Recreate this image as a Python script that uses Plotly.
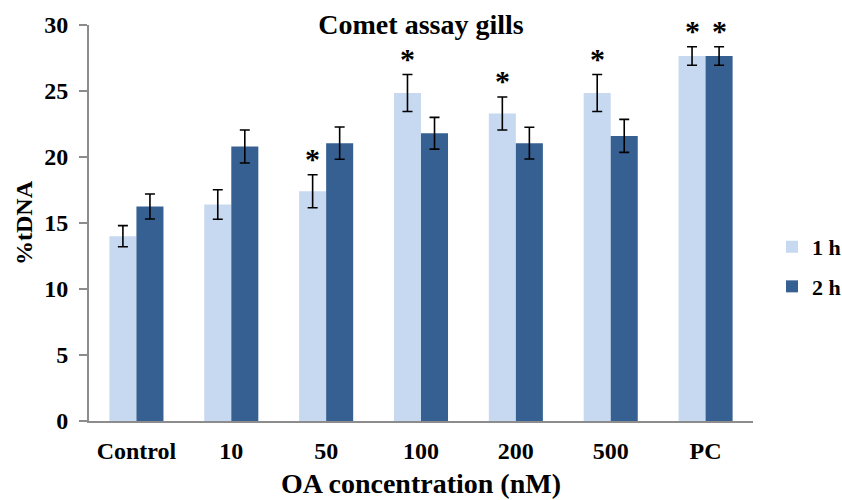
import plotly.graph_objects as go

categories = ["Control", "10", "50", "100", "200", "500", "PC"]
series_names = ["1 h", "2 h"]
values_1h = [14.0, 16.4, 17.4, 24.85, 23.3, 24.85, 27.65]
errors_1h = [0.8, 1.12, 1.25, 1.4, 1.25, 1.4, 0.7]
values_2h = [16.25, 20.8, 21.05, 21.8, 21.05, 21.6, 27.65]
errors_2h = [0.95, 1.25, 1.22, 1.2, 1.2, 1.25, 0.7]
stars_1h = [False, False, True, True, True, True, True]
stars_2h = [False, False, False, False, False, False, True]
y_ticks = [0, 5, 10, 15, 20, 25, 30]

FONT = "Liberation Serif"
LIGHT = "#C6D9F1"
DARK = "#366092"

def bfont(size):
    return dict(family=FONT, size=size, color="black", weight="bold")

fig = go.Figure()
for name, vals, errs, col, grp in [
    (series_names[0], values_1h, errors_1h, LIGHT, "g1"),
    (series_names[1], values_2h, errors_2h, DARK, "g2"),
]:
    fig.add_trace(go.Bar(
        x=categories, y=vals, name=name, legendgroup=grp,
        marker=dict(color=col, line=dict(width=0)),
        error_y=dict(type="data", array=errs, visible=True,
                     color="black", thickness=1.6, width=5),
    ))

annotations = []
for i, cat in enumerate(categories):
    for flag, vals, errs, off in [(stars_1h, values_1h, errors_1h, -0.142),
                                  (stars_2h, values_2h, errors_2h, 0.142)]:
        if flag[i]:
            annotations.append(dict(
                x=i + off, y=vals[i] + errs[i], xref="x", yref="y",
                text="*", showarrow=False, yanchor="bottom",
                yshift=-2, font=bfont(30)))

fig.update_layout(
    width=842, height=500,
    margin=dict(l=89, r=89, t=25, b=79, autoexpand=False),
    paper_bgcolor="white", plot_bgcolor="white",
    barmode="group", bargap=0.43, bargroupgap=0,
    title=dict(text="Comet assay gills", x=0.5, xanchor="center",
               y=0.952, yanchor="middle", font=bfont(28)),
    font=dict(family=FONT, color="black"),
    showlegend=True,
    legend=dict(x=1.0286, xanchor="left", y=0.389, yanchor="middle",
                traceorder="grouped", tracegroupgap=8,
                font=bfont(22), itemwidth=30, bgcolor="rgba(0,0,0,0)"),
    annotations=annotations,
)
fig.update_xaxes(
    type="category", showline=True, linecolor="#8C8C8C", linewidth=2,
    ticks="", showgrid=False,
    tickfont=bfont(24),
    ticklabelstandoff=7,
    title=dict(text="OA concentration (nM)", standoff=11, font=bfont(28)),
)
fig.update_yaxes(
    range=[0, 30], tickvals=y_ticks, showline=True, linecolor="#8C8C8C",
    linewidth=2, ticks="outside", ticklen=8, tickwidth=2, tickcolor="#8C8C8C",
    showgrid=False, zeroline=False,
    tickfont=bfont(24), ticklabelstandoff=6,
    title=dict(text="%tDNA", standoff=5, font=bfont(24)),
)
fig.write_html("out.html")
